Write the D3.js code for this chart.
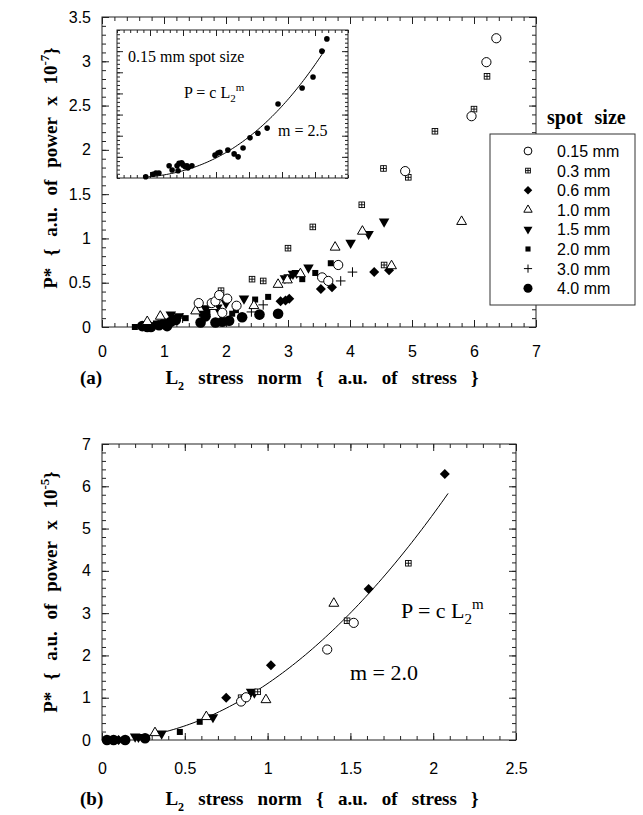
<!DOCTYPE html>
<html><head><meta charset="utf-8">
<script src="https://cdn.jsdelivr.net/npm/d3@7"></script>
<style>body{margin:0;background:#fff}svg{display:block}</style>
</head><body>
<svg id="chart" width="643" height="815"></svg>
<script>
// ---------- DATA ----------
const spotSizes = ["0.15 mm", "0.3 mm", "0.6 mm", "1.0 mm", "1.5 mm", "2.0 mm", "3.0 mm", "4.0 mm"];
const symbolKeys = ["openCircle", "crossSquare", "diamond", "openTriangle", "downTriangle", "square", "plus", "bigCircle"];

// Panel (a): [L2 stress norm, P* (x1e-7)]
const a015 = [[1.56,0.27],[1.77,0.27],[1.83,0.29],[1.89,0.36],[2.02,0.32],[2.17,0.24],[1.94,0.16],[3.55,0.56],[3.65,0.52],[3.81,0.70],[4.89,1.76],[5.96,2.38],[6.20,2.99],[6.36,3.26]];
const a03  = [[1.92,0.41],[2.42,0.54],[2.60,0.52],[3.00,0.89],[3.40,1.13],[4.19,1.38],[4.54,1.79],[4.55,0.70],[4.94,1.69],[5.37,2.21],[6.00,2.46],[6.21,2.83]];
const a06  = [[2.88,0.29],[2.96,0.30],[3.02,0.32],[3.53,0.43],[3.71,0.45],[4.39,0.62],[4.63,0.64]];
const a10  = [[0.73,0.06],[0.94,0.12],[1.51,0.18],[1.79,0.23],[2.45,0.24],[2.84,0.48],[2.99,0.53],[3.20,0.60],[3.76,0.90],[4.20,1.08],[4.67,0.69],[5.80,1.19]];
const a15  = [[1.11,0.14],[1.16,0.10],[1.24,0.12],[1.67,0.21],[1.86,0.22],[2.00,0.27],[2.29,0.32],[2.95,0.55],[3.01,0.56],[3.08,0.60],[3.14,0.61],[3.33,0.67],[4.01,0.95],[4.30,1.05],[4.55,1.19]];
const a20  = [[0.53,0.00],[0.87,0.04],[1.00,0.06],[1.35,0.10],[1.61,0.15],[1.70,0.17],[2.10,0.15],[2.16,0.19],[2.47,0.31],[2.68,0.34],[3.23,0.54],[3.44,0.61],[3.69,0.72]];
const a30  = [[1.30,0.10],[2.41,0.17],[2.60,0.25],[3.85,0.52],[4.04,0.62]];
const a40  = [[0.65,0.01],[0.73,0.00],[0.79,0.00],[0.92,0.02],[1.00,0.04],[1.05,0.01],[1.11,0.06],[1.19,0.08],[1.59,0.05],[1.67,0.12],[1.83,0.05],[1.94,0.06],[2.05,0.07],[2.26,0.11],[2.54,0.14],[2.84,0.15]];

// Inset of panel (a): 0.15 mm spot size
const inset015 = [[0.87,0.03],[1.09,0.09],[1.18,0.12],[1.27,0.12],[1.58,0.29],[1.67,0.19],[1.82,0.29],[1.85,0.17],[1.88,0.35],[1.96,0.36],[2.00,0.31],[2.06,0.27],[2.12,0.29],[2.15,0.24],[2.27,0.29],[2.97,0.54],[3.06,0.59],[3.12,0.61],[3.36,0.66],[3.55,0.57],[3.67,0.50],[3.82,0.71],[4.03,0.95],[4.27,1.06],[4.55,1.18],[4.88,1.75],[5.61,2.13],[5.94,2.39],[6.21,3.00],[6.36,3.29]];
const insetFitC = 0.0304, insetFitM = 2.5, insetFitRange = [0.9, 6.3];

// Panel (b): [L2 stress norm, P* (x1e-5)]
const b015 = [[0.84,0.91],[0.87,1.01],[1.36,2.14],[1.52,2.77]];
const b03  = [[0.84,1.00],[0.94,1.14],[1.48,2.82],[1.85,4.18]];
const b06  = [[0.10,0.00],[0.75,1.00],[1.02,1.77],[1.61,3.57],[2.07,6.29]];
const b10  = [[0.32,0.17],[0.63,0.55],[0.99,0.95],[1.40,3.23]];
const b15  = [[0.20,0.08],[0.22,0.07],[0.36,0.15],[0.67,0.54],[0.90,1.14],[0.92,1.12]];
const b20  = [[0.47,0.19],[0.59,0.43]];
const b30  = [];
const b40  = [[0.03,0.00],[0.07,0.00],[0.14,0.00],[0.26,0.04]];
const bFitC = 1.335, bFitM = 2.0, bFitRange = [0.27, 2.09];

const aXTicks = [0,1,2,3,4,5,6,7];
const aYTicks = [0,0.5,1,1.5,2,2.5,3,3.5];
const bXTicks = [0,0.5,1,1.5,2,2.5];
const bYTicks = [0,1,2,3,4,5,6,7];

// ---------- DRAW ----------
const svg = d3.select("#chart");
const SANS = "'Liberation Sans', Arial, sans-serif";
const SERIF = "'Liberation Serif', 'Times New Roman', serif";

function marker(g, key, x, y, s = 1) {
  const blk = "#000";
  switch (key) {
    case "openCircle":
      g.append("circle").attr("cx", x).attr("cy", y).attr("r", 4.6 * s).attr("fill", "#fff").attr("stroke", blk).attr("stroke-width", 1); break;
    case "bigCircle":
      g.append("circle").attr("cx", x).attr("cy", y).attr("r", 5.3 * s).attr("fill", blk); break;
    case "crossSquare": {
      const h = 2.8 * s;
      g.append("rect").attr("x", x - h).attr("y", y - h).attr("width", 2 * h).attr("height", 2 * h).attr("fill", "#fff").attr("stroke", blk).attr("stroke-width", 0.9);
      g.append("path").attr("d", `M${x - h},${y}H${x + h}M${x},${y - h}V${y + h}`).attr("stroke", blk).attr("stroke-width", 0.9);
      break; }
    case "diamond":
      g.append("path").attr("d", d3.symbol(d3.symbolSquare, 50 * s * s)()).attr("transform", `translate(${x},${y}) rotate(45)`).attr("fill", blk); break;
    case "openTriangle":
      g.append("path").attr("d", d3.symbol(d3.symbolTriangle, 42 * s * s)()).attr("transform", `translate(${x},${y})`).attr("fill", "#fff").attr("stroke", blk).attr("stroke-width", 1); break;
    case "downTriangle":
      g.append("path").attr("d", d3.symbol(d3.symbolTriangle, 48 * s * s)()).attr("transform", `translate(${x},${y}) rotate(180)`).attr("fill", blk); break;
    case "square":
      g.append("rect").attr("x", x - 3 * s).attr("y", y - 3 * s).attr("width", 6 * s).attr("height", 6 * s).attr("fill", blk); break;
    case "plus": {
      const h = 4.8 * s;
      g.append("path").attr("d", `M${x - h},${y}H${x + h}M${x},${y - h}V${y + h}`).attr("stroke", blk).attr("stroke-width", 1);
      break; }
  }
}

function frameAxes(g, x, y, xMajor, yMajor, xMinorStep, yMinorStep, opts) {
  const [x0, x1] = x.range(), [y0, y1] = y.range();
  const dx = x.domain(), dy = y.domain();
  const xMinor = d3.range(dx[0], dx[1] + 1e-9, xMinorStep);
  const yMinor = d3.range(dy[0], dy[1] + 1e-9, yMinorStep);
  const major = opts.major, minor = opts.minor;
  const style = s => s.call(a => a.select(".domain").remove()).selectAll("line").attr("stroke", "#222").attr("stroke-width", 1);
  g.append("g").attr("transform", `translate(0,${y0})`).call(d3.axisBottom(x).tickValues(xMinor).tickSize(-minor).tickFormat("")).call(style);
  g.append("g").attr("transform", `translate(0,${y1})`).call(d3.axisTop(x).tickValues(xMinor).tickSize(-minor).tickFormat("")).call(style);
  g.append("g").attr("transform", `translate(${x0},0)`).call(d3.axisLeft(y).tickValues(yMinor).tickSize(-minor).tickFormat("")).call(style);
  g.append("g").attr("transform", `translate(${x1},0)`).call(d3.axisRight(y).tickValues(yMinor).tickSize(-minor).tickFormat("")).call(style);
  const xb = g.append("g").attr("transform", `translate(0,${y0})`).call(d3.axisBottom(x).tickValues(xMajor).tickSize(-major).tickPadding(opts.xPad || 0).tickFormat(opts.labels ? d3.format("") : ""));
  style(xb);
  g.append("g").attr("transform", `translate(0,${y1})`).call(d3.axisTop(x).tickValues(xMajor).tickSize(-major).tickFormat("")).call(style);
  const yl = g.append("g").attr("transform", `translate(${x0},0)`).call(d3.axisLeft(y).tickValues(yMajor).tickSize(-major).tickPadding(opts.yPad || 0).tickFormat(opts.labels ? d3.format("") : ""));
  style(yl);
  g.append("g").attr("transform", `translate(${x1},0)`).call(d3.axisRight(y).tickValues(yMajor).tickSize(-major).tickFormat("")).call(style);
  g.selectAll("text").attr("font-family", SANS).attr("font-size", 16).attr("fill", "#000");
  g.append("rect").attr("x", x0).attr("y", y1).attr("width", x1 - x0).attr("height", y0 - y1).attr("fill", "none").attr("stroke", "#222").attr("stroke-width", 1);
}

function drawSeries(g, x, y, seriesList) {
  const order = [7, 6, 5, 4, 2, 3, 1, 0];
  order.forEach(i => {
    seriesList[i].forEach(d => marker(g, symbolKeys[i], x(d[0]), y(d[1])));
  });
}

// ===== Panel (a) =====
const ax = d3.scaleLinear().domain([0, 7]).range([102, 536]);
const ay = d3.scaleLinear().domain([0, 3.5]).range([327, 17]);
const gA = svg.append("g");
frameAxes(gA, ax, ay, aXTicks, aYTicks, 0.2, 0.1, { major: 7, minor: 4, labels: true, xPad: 19, yPad: 11 });
drawSeries(gA, ax, ay, [a015, a03, a06, a10, a15, a20, a30, a40]);

// inset
const ix = d3.scaleLinear().domain([0, 7]).range([117, 348]);
const iy = d3.scaleLinear().domain([0, 3.5]).range([178, 30]);
const gI = svg.append("g");
gI.append("rect").attr("x", 117).attr("y", 30).attr("width", 231).attr("height", 148).attr("fill", "#fff");
frameAxes(gI, ix, iy, [1, 2, 3, 4, 5, 6], [0.5, 1, 1.5, 2, 2.5, 3], 0.2, 0.1, { major: 6, minor: 3, labels: false });
const insetCurve = d3.range(insetFitRange[0], insetFitRange[1] + 1e-9, 0.05).map(v => [v, insetFitC * Math.pow(v, insetFitM)]);
gI.append("path").datum(insetCurve).attr("d", d3.line().x(d => ix(d[0])).y(d => iy(d[1]))).attr("fill", "none").attr("stroke", "#000").attr("stroke-width", 1);
inset015.forEach(d => gI.append("circle").attr("cx", ix(d[0])).attr("cy", iy(d[1])).attr("r", 2.8).attr("fill", "#000"));
gI.append("text").attr("x", 128).attr("y", 62).attr("font-family", SERIF).attr("font-size", 16).text("0.15 mm spot size");
const eqI = gI.append("text").attr("x", 184).attr("y", 98).attr("font-family", SERIF).attr("font-size", 16);
eqI.append("tspan").text("P = c L");
eqI.append("tspan").attr("font-size", 11).attr("dy", 4).text("2");
eqI.append("tspan").attr("font-size", 11).attr("dy", -11).text("m");
gI.append("text").attr("x", 278).attr("y", 136).attr("font-family", SERIF).attr("font-size", 16).text("m = 2.5");

// legend
const gL = svg.append("g");
gL.append("rect").attr("x", 490).attr("y", 134).attr("width", 145).attr("height", 171).attr("fill", "#fff").attr("stroke", "#333").attr("stroke-width", 1);
gL.append("text").attr("x", 547).attr("y", 124).attr("font-family", SERIF).attr("font-weight", "bold").attr("font-size", 20).attr("word-spacing", 7).text("spot size");
spotSizes.forEach((s, i) => {
  const yy = 151 + i * 19.6;
  marker(gL, symbolKeys[i], 528, yy, 0.85);
  gL.append("text").attr("x", 557).attr("y", yy + 6).attr("font-family", SANS).attr("font-size", 16).text(s);
});

// titles
function yTitle(cx, cy, exp) {
  const t = svg.append("text").attr("transform", `translate(${cx},${cy}) rotate(-90)`).attr("text-anchor", "middle")
    .attr("font-family", SERIF).attr("font-weight", "bold").attr("font-size", 19).attr("word-spacing", 7);
  t.append("tspan").text("P* { a.u. of power x 10");
  t.append("tspan").attr("font-size", 13).attr("dy", -8).text(exp);
  t.append("tspan").attr("dy", 8).text("}");
}
function xTitle(cx, cy) {
  const t = svg.append("text").attr("x", cx).attr("y", cy).attr("text-anchor", "middle")
    .attr("font-family", SERIF).attr("font-weight", "bold").attr("font-size", 19).attr("word-spacing", 9.5);
  t.append("tspan").text("L");
  t.append("tspan").attr("font-size", 12).attr("dy", 6).text("2");
  t.append("tspan").attr("dy", -6).text(" stress norm { a.u. of stress }");
}
yTitle(57, 168, "-7");
xTitle(322, 384);
svg.append("text").attr("x", 80).attr("y", 384).attr("font-family", SERIF).attr("font-weight", "bold").attr("font-size", 19).text("(a)");

// ===== Panel (b) =====
const bx = d3.scaleLinear().domain([0, 2.5]).range([102, 516]);
const by = d3.scaleLinear().domain([0, 7]).range([740, 444]);
const gB = svg.append("g");
frameAxes(gB, bx, by, bXTicks, bYTicks, 0.1, 0.2, { major: 7, minor: 4, labels: true, xPad: 23, yPad: 11 });
const bCurve = d3.range(bFitRange[0], bFitRange[1] + 1e-9, 0.02).map(v => [v, bFitC * Math.pow(v, bFitM)]);
gB.append("path").datum(bCurve).attr("d", d3.line().x(d => bx(d[0])).y(d => by(d[1]))).attr("fill", "none").attr("stroke", "#000").attr("stroke-width", 1);
drawSeries(gB, bx, by, [b015, b03, b06, b10, b15, b20, b30, b40]);
const eqB = gB.append("text").attr("x", 401).attr("y", 618).attr("font-family", SERIF).attr("font-size", 22);
eqB.append("tspan").text("P = c L");
eqB.append("tspan").attr("font-size", 15).attr("dy", 6).text("2");
eqB.append("tspan").attr("font-size", 15).attr("dy", -15).text("m");
gB.append("text").attr("x", 350).attr("y", 680).attr("font-family", SERIF).attr("font-size", 22).text("m = 2.0");

yTitle(57, 592, "-5");
xTitle(322, 805);
svg.append("text").attr("x", 80).attr("y", 805).attr("font-family", SERIF).attr("font-weight", "bold").attr("font-size", 19).text("(b)");
</script>
</body></html>
